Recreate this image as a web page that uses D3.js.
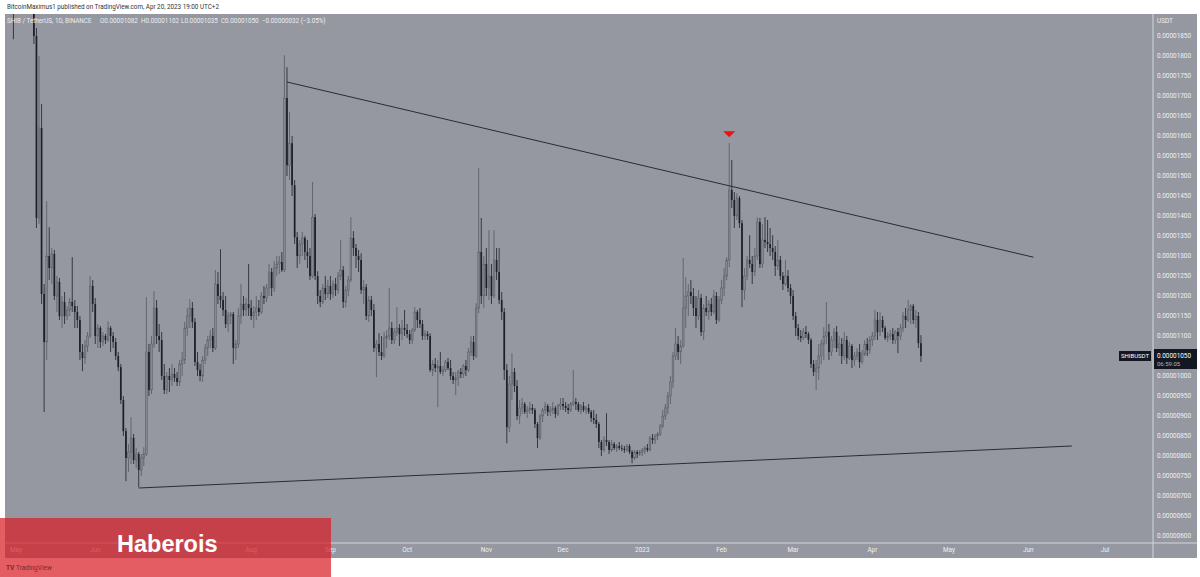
<!DOCTYPE html>
<html><head><meta charset="utf-8">
<script src="https://cdn.jsdelivr.net/npm/d3@7"></script>
<style>body{margin:0;background:#fff;overflow:hidden}svg{display:block;font-family:Roboto,"Noto Sans",sans-serif}</style>
</head><body><svg id="c" width="1200" height="577"></svg>
<script>
// Values in units of 1e-8 USDT (1050 = 0.00001050). Daily candles from 2022-04-28.
const startDate = "2022-04-28";
const opens = [2430,2400,2290,
2210,2240,2220,2150,2280,2070,2010,1960,1850,1395,1620,1205,1085,1300,1270,1305,1200,1235,1150,1185,1150,1165,1185,1175,1160,1140,1060,1045,1075,1100,1225,
1180,1100,1120,1085,1100,1090,1120,1100,1085,1050,1022,940,862,795,810,845,790,805,765,795,805,1060,965,1080,1170,1100,1090,1000,965,1000,
990,1005,995,985,1030,1040,1120,1150,1170,1135,1035,1015,1000,1040,1070,1090,1100,1070,1230,1200,1190,1165,1130,1150,1155,1070,1080,1150,1180,1165,1180,
1170,1150,1160,1170,1160,1200,1195,1220,1260,1220,1270,1280,1285,1265,1695,1527,1582,1477,1347,1300,1330,1345,1310,1300,1250,1397,1250,1200,1185,1220,1205,
1225,1205,1230,1215,1250,1265,1185,1215,1240,1345,1320,1300,1290,1215,1222,1150,1190,1165,1070,1080,1060,1050,1095,1100,1120,1090,1110,1120,1105,1120,
1115,1105,1090,1115,1160,1140,1130,1100,1105,1100,1015,1030,1020,1025,1010,1015,1035,1020,1000,990,995,1010,1005,1025,1015,1060,1085,1050,1170,1310,1200,
1280,1220,1250,1200,1290,1260,1190,1160,1015,872,980,1010,975,900,920,930,910,915,920,915,880,845,900,915,925,910,915,920,905,925,
930,925,920,915,930,935,930,915,925,915,920,910,895,890,880,835,815,840,835,815,830,820,825,820,818,815,825,810,795,810,805,
810,815,820,815,845,840,850,855,875,900,920,950,985,1050,1080,1060,1075,1170,1200,1210,1200,1170,1150,1195,1110,1170,1160,1180,1160,1200,1140,
1190,1220,1250,1290,1465,1440,1400,1445,1382,1215,1250,1290,1280,1260,1300,1385,1280,1340,1335,1330,1320,1310,1275,1290,1250,1230,1250,1220,
1200,1150,1120,1100,1095,1110,1105,1090,1030,1010,1020,1050,1080,1100,1110,1060,1090,1110,1070,1080,1050,1090,1045,1075,1040,1050,1060,1035,1055,1080,1065,
1090,1100,1140,1110,1140,1120,1095,1100,1105,1090,1110,1100,1120,1150,1140,1165,1175,1140,1150,1082];
const highs = [2480,2410,2300,
2260,2290,2240,2300,2290,2080,2030,1970,1870,1800,1680,1230,1437,1372,1320,1315,1250,1245,1200,1210,1175,1195,1297,1190,1175,1150,1080,1090,1110,1250,1240,
1195,1130,1125,1110,1105,1137,1125,1110,1095,1060,1030,950,870,830,897,855,820,810,805,822,1197,1080,1100,1212,1190,1130,1110,1030,1010,1020,
1030,1020,1010,1040,1060,1135,1170,1192,1185,1145,1060,1030,1050,1080,1100,1115,1120,1265,1260,1317,1210,1200,1160,1160,1160,1090,1170,1230,1200,1195,1280,
1190,1175,1200,1190,1210,1225,1230,1280,1270,1287,1300,1300,1310,1802,1772,1660,1600,1490,1360,1340,1360,1350,1340,1320,1485,1405,1262,1215,1230,1250,1240,
1250,1240,1245,1260,1340,1275,1225,1250,1397,1362,1330,1315,1307,1240,1230,1200,1200,1180,1090,1107,1100,1110,1115,1220,1135,1120,1172,1130,1140,1165,
1130,1115,1120,1172,1165,1170,1140,1115,1112,1107,1040,1045,1040,1060,1025,1040,1045,1040,1010,1010,1015,1020,1030,1040,1070,1100,1100,1182,1520,1395,1300,
1320,1365,1280,1365,1320,1320,1210,1170,1030,1000,1057,1020,990,940,945,935,925,935,930,920,885,905,920,935,930,925,935,925,930,945,
945,935,930,935,1015,945,935,930,935,925,930,915,915,905,885,840,850,907,840,840,835,830,835,828,825,830,830,815,815,815,815,
820,825,830,850,855,855,860,880,915,930,960,1000,1060,1120,1100,1090,1295,1247,1230,1240,1220,1200,1215,1205,1180,1200,1190,1195,1215,1210,1200,
1240,1270,1297,1582,1540,1460,1457,1450,1390,1270,1300,1352,1300,1320,1397,1395,1380,1397,1390,1370,1352,1325,1340,1300,1260,1290,1265,1230,
1215,1160,1130,1115,1120,1125,1110,1095,1040,1040,1080,1090,1122,1185,1130,1100,1120,1125,1100,1095,1110,1100,1085,1080,1060,1070,1080,1065,1090,1095,1100,
1110,1165,1160,1160,1150,1125,1110,1115,1120,1115,1120,1130,1160,1170,1190,1180,1180,1165,1160,1102];
const lows = [2360,2270,1842,
2160,2190,2130,2140,2040,1970,1930,1830,1370,1380,1180,910,1040,1240,1230,1190,1160,1140,1120,1130,1140,1150,1160,1120,1120,1040,1012,1030,1060,1095,1160,
1080,1070,1070,1075,1080,1085,1060,1070,1040,1012,930,850,737,760,780,780,770,722,750,775,800,950,955,1070,1080,1060,990,955,955,960,
975,985,975,975,1000,1030,1100,1120,1120,1025,1000,987,985,1030,1050,1070,1060,1065,1180,1170,1150,1120,1110,1130,1030,1040,1070,1130,1150,1150,1150,
1140,1120,1140,1150,1155,1180,1185,1200,1200,1210,1250,1255,1260,1260,1500,1490,1450,1330,1270,1280,1300,1290,1270,1240,1245,1240,1180,1172,1180,1190,1195,
1190,1195,1200,1205,1240,1170,1172,1200,1235,1300,1270,1260,1205,1180,1140,1135,1150,1060,997,1050,1040,1045,1070,1090,1080,1080,1100,1075,1090,1100,
1095,1080,1080,1110,1120,1120,1090,1090,1090,1010,1000,1010,922,1005,1000,1010,1015,990,980,952,975,995,995,1000,1010,1050,1040,1045,1157,1180,1170,
1200,1190,1180,1195,1240,1180,1140,990,832,860,940,960,890,880,905,905,895,905,905,870,820,840,885,905,900,900,905,895,900,915,
915,910,905,910,925,915,910,905,910,905,905,885,880,870,820,800,810,825,805,810,815,810,815,812,808,810,805,782,790,795,800,
800,805,810,812,830,830,840,850,870,890,905,930,970,1040,1040,1030,1070,1120,1150,1180,1150,1120,1140,1100,1090,1150,1140,1150,1155,1130,1135,
1180,1200,1240,1272,1420,1370,1390,1370,1172,1190,1240,1270,1230,1250,1290,1270,1270,1320,1310,1300,1290,1250,1265,1240,1215,1225,1210,1180,
1140,1100,1090,1085,1090,1095,1080,1020,1000,965,990,1030,1040,1080,1040,1050,1070,1060,1050,1030,1040,1030,1040,1020,1025,1040,1020,1030,1050,1050,1055,
1075,1090,1090,1100,1110,1090,1085,1090,1080,1080,1057,1090,1110,1120,1135,1130,1130,1120,1070,1035];
const closes = [2400,2290,2210,
2240,2220,2150,2280,2070,2010,1960,1850,1395,1620,1205,1085,1300,1270,1305,1200,1235,1150,1185,1150,1165,1185,1175,1160,1140,1060,1045,1075,1100,1225,1180,
1100,1120,1085,1100,1090,1120,1100,1085,1050,1022,940,862,795,810,845,790,805,765,795,805,1060,965,1080,1170,1100,1090,1000,965,1000,990,
1005,995,985,1030,1040,1120,1150,1170,1135,1035,1015,1000,1040,1070,1090,1100,1070,1230,1200,1190,1165,1130,1150,1155,1070,1080,1150,1180,1165,1180,1170,
1150,1160,1170,1160,1200,1195,1220,1260,1220,1270,1280,1285,1265,1695,1527,1582,1477,1347,1300,1330,1345,1310,1300,1250,1397,1250,1200,1185,1220,1205,1225,
1205,1230,1215,1250,1265,1185,1215,1240,1345,1320,1300,1290,1215,1222,1150,1190,1165,1070,1080,1060,1050,1095,1100,1120,1090,1110,1120,1105,1120,1115,
1105,1090,1115,1160,1140,1130,1100,1105,1100,1015,1030,1020,1025,1010,1015,1035,1020,1000,990,995,1010,1005,1025,1015,1060,1085,1050,1170,1310,1200,1280,
1220,1250,1200,1290,1260,1190,1160,1015,872,980,1010,975,900,920,930,910,915,920,915,880,845,900,915,925,910,915,920,905,925,930,
925,920,915,930,935,930,915,925,915,920,910,895,890,880,835,815,840,835,815,830,820,825,820,818,815,825,810,795,810,805,810,
815,820,815,845,840,850,855,875,900,920,950,985,1050,1080,1060,1075,1170,1200,1210,1200,1170,1150,1195,1110,1170,1160,1180,1160,1200,1140,1190,
1220,1250,1290,1465,1440,1400,1445,1382,1215,1250,1290,1280,1260,1300,1385,1280,1340,1335,1330,1320,1310,1275,1290,1250,1230,1250,1220,1200,
1150,1120,1100,1095,1110,1105,1090,1030,1010,1020,1050,1080,1100,1110,1060,1090,1110,1070,1080,1050,1090,1045,1075,1040,1050,1060,1035,1055,1080,1065,1090,
1100,1140,1110,1140,1120,1095,1100,1105,1090,1110,1100,1120,1150,1140,1165,1175,1140,1150,1082,1050];

const yTicks = [600,650,700,750,800,850,900,950,1000,1050,1100,1150,1200,1250,1300,1350,1400,1450,1500,1550,1600,1650,1700,1750,1800,1850];
const monthLabels = ["May","Jun","Jul","Aug","Sep","Oct","Nov","Dec","2023","Feb","Mar","Apr","May","Jun","Jul"];
const upperTrend = [["2022-08-15",1735],["2023-06-03",1297]];
const lowerTrend = [["2022-06-18",720],["2023-06-18",825]];
const signalMark = ["2023-02-04",1582];
const lastPrice = 1050;

const svg = d3.select("#c");
const P = {l:5, t:14, r:1153, b:543, axR:1197, axB:558};
const parse = d3.utcParse("%Y-%m-%d");
const x = d3.scaleUtc().domain([parse("2022-05-01"), parse("2023-07-01")]).range([16, 1105]);
const y = d3.scaleLinear().domain([600, 1850]).range([536, 36]);
const fmt = v => (v/1e8).toFixed(8);

const t0 = parse(startDate);
const data = closes.map((c,i)=>({date:d3.utcDay.offset(t0,i), o:opens[i], h:highs[i], l:lows[i], c}));

// panel
svg.append("rect").attr("x",P.l).attr("y",P.t).attr("width",P.axR-P.l).attr("height",P.axB-P.t).attr("fill","#9598a1");
svg.append("defs").append("clipPath").attr("id","clip").append("rect")
  .attr("x",P.l).attr("y",P.t).attr("width",P.r-P.l).attr("height",P.b-P.t);

const g = svg.append("g").attr("clip-path","url(#clip)");
const bw = 1.7;
g.selectAll("line.w").data(data).join("line").attr("class","w")
  .attr("x1",d=>x(d.date)).attr("x2",d=>x(d.date))
  .attr("y1",d=>y(d.h)).attr("y2",d=>y(d.l))
  .attr("stroke",d=>d.c>=d.o?"#565963":"#1e2027").attr("stroke-width",0.8);
g.selectAll("rect.b").data(data).join("rect").attr("class","b")
  .attr("x",d=>x(d.date)-bw/2).attr("width",bw)
  .attr("y",d=>y(Math.max(d.o,d.c)))
  .attr("height",d=>Math.max(0.8,Math.abs(y(d.o)-y(d.c))))
  .attr("fill",d=>d.c>=d.o?"#858891":"#1e2027")
  .attr("stroke",d=>d.c>=d.o?"#565963":"none").attr("stroke-width",0.5);

// trend lines
[upperTrend, lowerTrend].forEach(tl=>{
  g.append("line")
    .attr("x1",x(parse(tl[0][0]))).attr("y1",y(tl[0][1]))
    .attr("x2",x(parse(tl[1][0]))).attr("y2",y(tl[1][1]))
    .attr("stroke","#2a2c32").attr("stroke-width",1);
});
// signal triangle
const sx = x(parse(signalMark[0])), sy = y(signalMark[1]) - 6;
svg.append("path").attr("d",`M${sx-6},${sy-6}L${sx+6},${sy-6}L${sx},${sy}Z`).attr("fill","#f01010");

// separators
svg.append("line").attr("x1",P.r).attr("x2",P.r).attr("y1",P.t).attr("y2",P.axB).attr("stroke","#d4d6da").attr("stroke-width",1);
svg.append("line").attr("x1",P.l).attr("x2",P.axR).attr("y1",P.b).attr("y2",P.b).attr("stroke","#d4d6da").attr("stroke-width",1);

// y axis labels
const tc = "#eef0f3", fs = 6.4;
svg.append("g").selectAll("text").data(yTicks).join("text")
  .attr("x",1157).attr("y",d=>y(d)).attr("dy","0.35em")
  .attr("font-size",fs).attr("fill",tc).text(fmt);
svg.append("text").attr("x",1157).attr("y",21).attr("dy","0.35em").attr("font-size",fs).attr("fill",tc).text("USDT");

// x axis labels
const months = d3.utcMonths(parse("2022-05-01"), parse("2023-07-02"));
svg.append("g").selectAll("text").data(months).join("text")
  .attr("x",d=>x(d)).attr("y",550).attr("dy","0.35em").attr("text-anchor","middle")
  .attr("font-size",fs).attr("fill",tc).text((d,i)=>monthLabels[i]);

// last price labels
const ly = y(lastPrice);
svg.append("rect").attr("x",1119).attr("y",ly-5).attr("width",32).attr("height",10).attr("fill","#131722");
svg.append("text").attr("x",1135).attr("y",ly).attr("dy","0.35em").attr("text-anchor","middle").attr("font-size",6).attr("fill","#fff").text("SHIBUSDT");
svg.append("rect").attr("x",1154).attr("y",ly-7).attr("width",43).attr("height",20).attr("fill","#131722");
svg.append("text").attr("x",1157).attr("y",ly).attr("dy","0.35em").attr("font-size",fs).attr("fill","#fff").text(fmt(lastPrice));
svg.append("text").attr("x",1157).attr("y",ly+8).attr("dy","0.35em").attr("font-size",6).attr("fill","#b2b5be").text("06:59:05");

// headers
svg.append("text").attr("x",7).attr("y",7).attr("dy","0.35em").attr("font-size",6.3).attr("fill","#333").text("BitcoinMaximus1 published on TradingView.com, Apr 20, 2023 19:00 UTC+2");
const hdr = [[7,"SHIB / TetherUS, 1D, BINANCE"],[100,"O0.00001082"],[141,"H0.00001102"],[181,"L0.00001035"],[221,"C0.00001050"],[262,"−0.00000032 (−3.05%)"]];
svg.append("g").selectAll("text").data(hdr).join("text")
  .attr("x",d=>d[0]).attr("y",21).attr("dy","0.35em").attr("font-size",6.3).attr("fill","#eceef1").text(d=>d[1]);

// watermark
svg.append("rect").attr("x",0).attr("y",518).attr("width",331).attr("height",59).attr("fill","#d81e25").attr("opacity",0.72);
svg.append("text").attr("x",117).attr("y",552).attr("font-family","'Liberation Sans',Arial,sans-serif").attr("font-weight","bold")
  .attr("font-size",23.5).attr("fill","#fff").text("Haberois");
svg.append("text").attr("x",6).attr("y",568).attr("dy","0.35em").attr("font-size",6.5).attr("font-weight","bold").attr("fill","#7c2a2e").text("TV");
svg.append("text").attr("x",16).attr("y",568).attr("dy","0.35em").attr("font-size",6.5).attr("fill","#7c2a2e").text("TradingView");
</script></body></html>
